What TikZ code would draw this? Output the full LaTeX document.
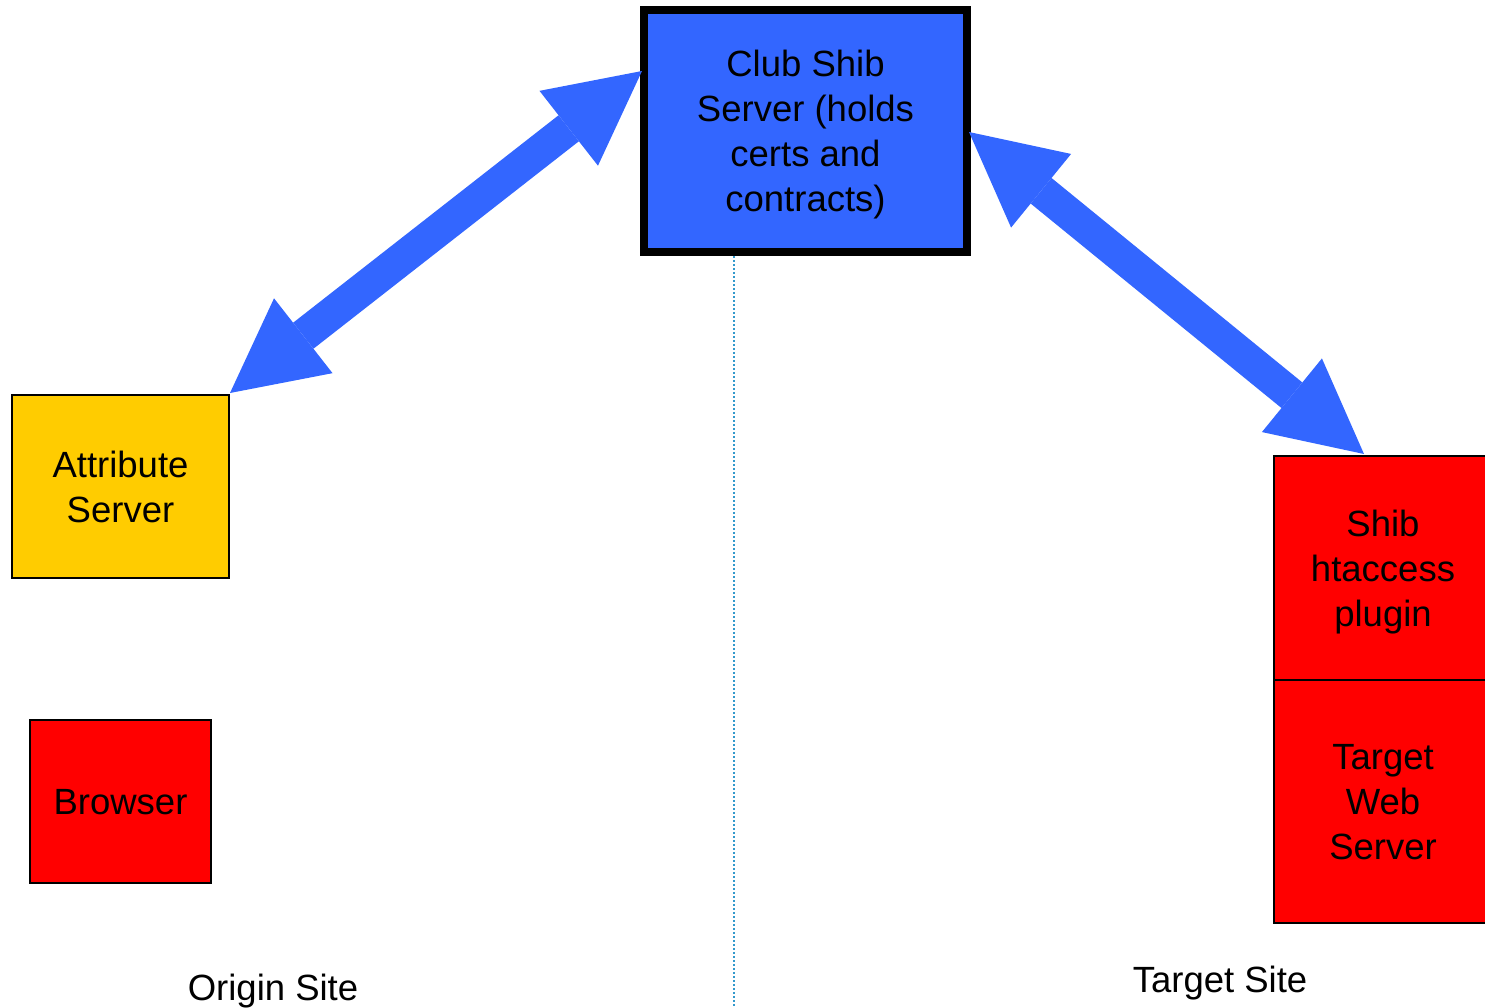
\documentclass[tikz,border=0pt]{standalone}
\usepackage{fontspec}
\setmainfont{Liberation Sans}
\usetikzlibrary{arrows.meta,calc}
\definecolor{shibblue}{RGB}{51,102,255}
\definecolor{attryellow}{RGB}{255,204,0}
\definecolor{divider}{RGB}{51,153,204}
\tikzset{
  txt/.style={font=\fontsize{36.5}{45}\selectfont, align=center, text=black},
  box/.style={txt, draw=black, line width=2.5pt, inner sep=0pt, outer sep=0pt, text depth=0pt, rectangle},
  bigarrow/.style={draw=shibblue, line width=33pt,
    {Triangle[length=93pt,width=95pt,line width=0pt]}-{Triangle[length=93pt,width=95pt,line width=0pt]}},
  sitelabel/.style={font=\fontsize{36.5}{45}\selectfont, anchor=base, inner sep=0pt}
}
\begin{document}
\begin{tikzpicture}[x=1pt,y=-1pt]
\useasboundingbox (0,0) rectangle (1485,1007);
% divider
\coordinate (dtop) at (734,256);
\coordinate (dbot) at (734,1007);
\draw[divider, line width=1.6pt, dash pattern=on 1.6pt off 2.4pt] (dtop) -- (dbot);
% boxes
\node[box, fill=shibblue, line width=8pt, minimum width=323pt, minimum height=242pt] (club) at (805.5,131) {Club Shib\\Server (holds\\certs and\\contracts)};
\node[box, fill=attryellow, minimum width=217pt, minimum height=183pt] (attr) at (120.5,486.5) {Attribute\\Server};
\node[box, fill=red, minimum width=181pt, minimum height=163pt] (browser) at (120.5,801.5) {Browser};
\node[box, fill=red, minimum width=218pt, minimum height=224pt] (plugin) at (1383,568) {Shib\\htaccess\\plugin};
\node[box, fill=red, minimum width=218pt, minimum height=243pt] (target) at (1383,801.5) {Target\\Web\\Server};
% arrow endpoints
\coordinate (a1) at ($(attr.north east)+(1,-2)$);
\coordinate (c1) at ($(club.north west)+(-2,61)$);
\coordinate (c2) at ($(club.north east)+(2,122)$);
\coordinate (p1) at ($(plugin.north west)+(90,-2)$);
\draw[bigarrow] (a1) -- (c1);
\draw[bigarrow] (c2) -- (p1);
% site labels
\node[sitelabel] (origin) at (273,1000) {Origin Site};
\node[sitelabel] (tsite) at (1220,992) {Target Site};
\end{tikzpicture}
\end{document}
